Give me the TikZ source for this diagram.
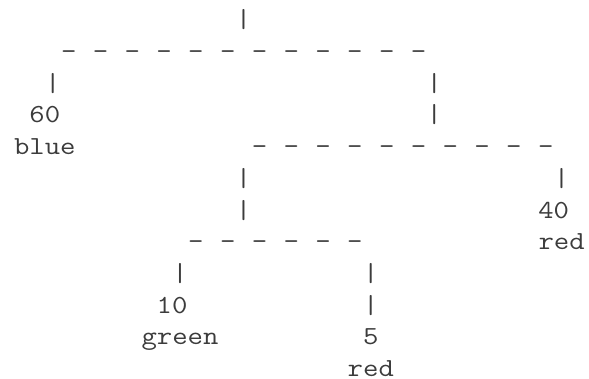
\documentclass[tikz,border=0pt]{standalone}
\usepackage{tikz}
\usetikzlibrary{positioning}
\definecolor{asciigray}{RGB}{60,60,60}

\begin{document}
\begin{tikzpicture}[
        x=15.9pt, y=-31.7pt,
        glyph/.style={font=\ttfamily\fontsize{26}{26}\selectfont, text=asciigray, inner sep=0pt, anchor=base, xscale=1.15, transform shape},
        stem/.style={glyph},
        hbar/.style={glyph},
        leaf/.style={glyph}
    ]
    \useasboundingbox (-1.3208,-0.8801) rectangle (35.7233,11.0757);

    % Root split
    \node[stem] (root) at (14,0) {|};
    \foreach \c in {3,5,...,25} \node[hbar] (top\c) at (\c,1) {-};

    % Left leaf: 60 blue
    \node[stem] (lstem) at (2,2) {|};
    \node[leaf] (v60) at (1.5,3) {60};
    \node[leaf] (c60) at (1.5,4) {blue};

    % Right branch
    \node[stem] (rstema) at (26,2) {|};
    \node[stem] (rstemb) at (26,3) {|};
    \foreach \c in {15,17,...,33} \node[hbar] (mid\c) at (\c,4) {-};

    % Right leaf: 40 red
    \node[stem] (sstem) at (34,5) {|};
    \node[leaf] (v40) at (33.5,6) {40};
    \node[leaf] (c40) at (34,7) {red};

    % Inner split
    \node[stem] (istema) at (14,5) {|};
    \node[stem] (istemb) at (14,6) {|};
    \foreach \c in {11,13,...,21} \node[hbar] (low\c) at (\c,7) {-};

    % Leaf: 10 green
    \node[stem] (gstem) at (10,8) {|};
    \node[leaf] (v10) at (9.5,9) {10};
    \node[leaf] (c10) at (10,10) {green};

    % Leaf: 5 red
    \node[stem] (fstema) at (22,8) {|};
    \node[stem] (fstemb) at (22,9) {|};
    \node[leaf] (v5) at (22,10) {5};
    \node[leaf] (c5) at (22,11) {red};

    \end{tikzpicture}
\end{document}
